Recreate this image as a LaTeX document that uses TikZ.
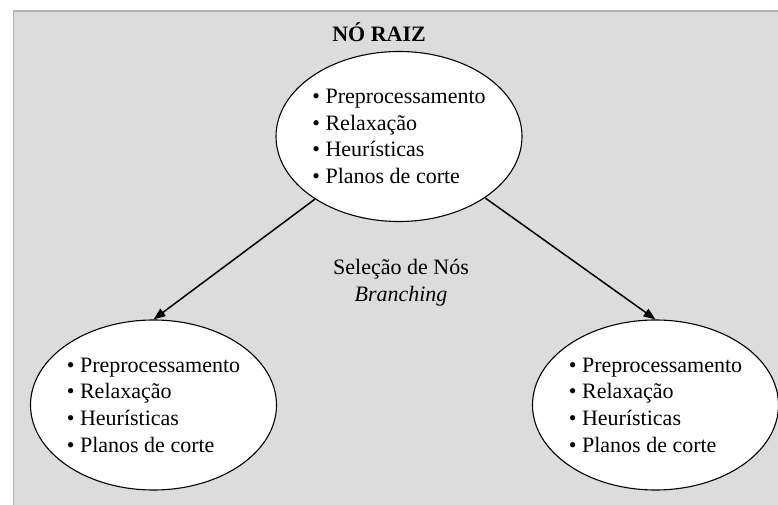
\documentclass[tikz,border=0pt]{standalone}
\usepackage{fontspec}
\setmainfont{Liberation Serif}
\usetikzlibrary{arrows.meta,shapes.geometric}
\definecolor{panel}{HTML}{DCDCDC}
\definecolor{panelrule}{HTML}{B4B4B4}
\newcommand{\etapas}{\textbullet\ Preprocessamento\\ \textbullet\ Relaxação\\ \textbullet\ Heurísticas\\ \textbullet\ Planos de corte}

\begin{document}
\begin{tikzpicture}[x=1pt, y=-1pt, >={Triangle[length=12pt,width=9pt]},
  noh/.style={draw=black, fill=white, ellipse, line width=1.1pt,
              minimum width=246pt, minimum height=170pt, inner sep=0pt},
  lista/.style={align=left, inner sep=0pt, font=\fontsize{22}{26.7}\selectfont}]
  \useasboundingbox (0,0) rectangle (778,505);
  % fundo
  \fill[panel] (13,10) rectangle (778,505);
  \draw[panelrule, line width=1.5pt] (13.5,505) -- (13.5,11) -- (778,11);
  % nos
  \node[noh] (raiz) at (399,136.5) {};
  \node[noh] (esq) at (153.5,405) {};
  \node[noh] (dir) at (655.5,405) {};
  \node[lista] (raiztxt) at (raiz) {\etapas};
  \node[lista] (esqtxt) at (esq) {\etapas};
  \node[lista] (dirtxt) at (dir) {\etapas};
  \node[anchor=base, inner sep=0pt, font=\fontsize{22}{26.7}\selectfont\bfseries] (titulo) at (379,42) {NÓ RAIZ};
  \node[align=center, inner sep=0pt, font=\fontsize{22}{27}\selectfont] (selecao) at (401,282.5) {Seleção de Nós\\ \textit{Branching}};
  % ramificacao
  \draw[->, line width=1.5pt] (raiz) -- (esq.north);
  \draw[->, line width=1.5pt] (raiz) -- (dir.north);
\end{tikzpicture}
\end{document}
